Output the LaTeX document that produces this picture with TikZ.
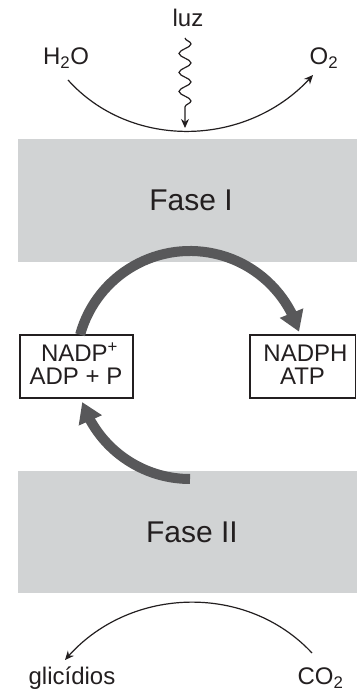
\documentclass[tikz,border=0pt]{standalone}
\usepackage{fontspec}
\setmainfont{Liberation Sans}
\usetikzlibrary{arrows.meta,bending,decorations.pathmorphing}
\definecolor{phasegray}{HTML}{D1D3D4}
\definecolor{cyclegray}{HTML}{58585A}
\definecolor{ink}{HTML}{231F20}
\begin{document}
\begin{tikzpicture}[x=1pt,y=1pt,
  lbl/.style={anchor=base,inner sep=0pt,text=ink,font=\fontsize{24}{24}\selectfont},
  phase/.style={fill=phasegray,draw=none},
  phaselbl/.style={anchor=base,inner sep=0pt,text=ink,font=\fontsize{30}{30}\selectfont},
  molbox/.style={draw=ink,line width=1.3pt,fill=white,inner sep=0pt,minimum height=63pt},
  thinarrow/.style={draw=ink,line width=1.2pt,-{Stealth[length=9pt,width=8pt]}},
  cyclearrow/.style={draw=cyclegray,line width=10pt,-{Triangle[length=20pt,width=24pt]}}
]
\useasboundingbox[fill=white] (0,0) rectangle (357,691);
% phase bands
\fill[phase] (17.5,429) rectangle (357,552);
\fill[phase] (17.5,98) rectangle (357,220);
\node[phaselbl] (f1) at (191,480) {Fase I};
\node[phaselbl] (f2) at (192,148) {Fase II};
% top labels
\node[lbl] (h2o) at (66,626) {H\textsubscript{2}O};
\node[lbl] (luz) at (188,664) {luz};
\node[lbl] (o2) at (324,626) {O\textsubscript{2}};
\coordinate (h2oend) at (68,611);
\coordinate (o2end) at (313,616);
\draw[thinarrow] (h2oend) to[out=-48,in=-131] (o2end);
\coordinate (luztop) at (185,653);
\coordinate (luztip) at (185,563);
\draw[thinarrow,decorate,decoration={snake,amplitude=6pt,segment length=19pt,post length=14pt}] (luztop) -- (luztip);
% boxes
\node[molbox,minimum width=113pt] (nadp) at (76.5,324.5) {};
\node[molbox,minimum width=105.5pt] (nadph) at (302.75,324.5) {};
\node[lbl] (nadpA) at (79.5,329) {NADP\textsuperscript{+}};
\node[lbl] (nadpB) at (76,306) {ADP + P};
\node[lbl] (nadphA) at (305.5,329) {NADPH};
\node[lbl] (nadphB) at (302.5,306) {ATP};
% cycle arrows
\coordinate (cyc) at (190,326);
\draw[cyclearrow] ([shift={(164.6:114)}]cyc) arc[start angle=164.6,end angle=17,radius=114];
\draw[cyclearrow] ([shift={(270:114)}]cyc) arc[start angle=270,end angle=199,radius=114];
% bottom labels
\node[lbl] (glic) at (72,6.5) {glicídios};
\node[lbl] (co2) at (320.5,6.5) {CO\textsubscript{2}};
\coordinate (co2end) at (312,38);
\coordinate (glicend) at (65,31);
\draw[thinarrow] (co2end) to[out=133,in=50] (glicend);
\end{tikzpicture}
\end{document}
